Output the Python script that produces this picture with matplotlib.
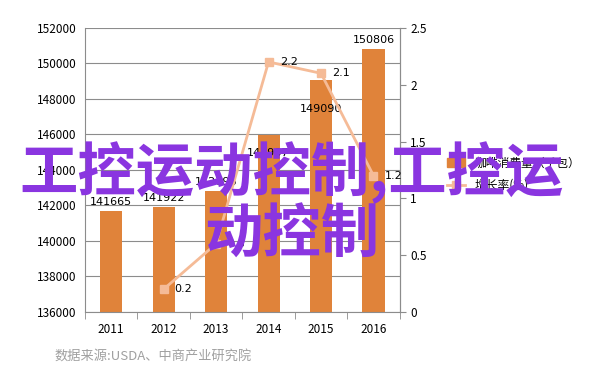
import numpy as np
import matplotlib
matplotlib.use("Agg")
from matplotlib import pyplot as plt
from matplotlib.lines import Line2D
from matplotlib.patches import Patch

plt.rcParams['font.family'] = ['Noto Sans CJK SC', 'DejaVu Sans']

years = ['2011', '2012', '2013', '2014', '2015', '2016']
consumption = [141665, 141922, 142796, 145987, 149090, 150806]
growth_years = ['2012', '2013', '2014', '2015', '2016']
growth = [0.2, 0.6, 2.2, 2.1, 1.2]

# label offsets in points (Excel pushed two labels inside the bars)
bar_label_dy = [3, 3, 3, -17, -25, 3]

bar_color = '#e0833a'
line_color = '#f5bb97'
grid_color = '#8c8c8c'

fig = plt.figure(figsize=(6.02, 3.84), dpi=100)
ax = fig.add_axes([0.141, 0.1875, 0.523, 0.740])
x = np.arange(len(years))
ax.bar(x, [v - 136000 for v in consumption], bottom=136000, width=0.42,
       color=bar_color, zorder=2)
ax.set_ylim(136000, 152000)
ax.set_xlim(-0.5, 5.5)
ax.set_yticks(range(136000, 152001, 2000))
ax.set_xticks(x)
ax.set_xticklabels(years, fontsize=8.5)
ax.tick_params(axis='y', length=0, labelsize=8.5, pad=6)
ax.tick_params(axis='x', length=0, pad=8)
ax.set_xticks(np.arange(-0.5, 6, 1), minor=True)
ax.tick_params(axis='x', which='minor', length=5, color=grid_color)
ax.yaxis.grid(True, color=grid_color, linewidth=0.8, zorder=0)
ax.spines['top'].set_visible(False)
for s in ['left', 'bottom', 'right']:
    ax.spines[s].set_color(grid_color)
for xi, v, dy in zip(x, consumption, bar_label_dy):
    ax.annotate(str(v), (xi, v), xytext=(0, dy), textcoords='offset points',
                ha='center', va='bottom', fontsize=8, family='DejaVu Sans',
                zorder=4)

ax2 = ax.twinx()
ax2.set_ylim(0, 2.5)
ax2.set_yticks([0, 0.5, 1, 1.5, 2, 2.5])
ax2.set_yticklabels(['0', '0.5', '1', '1.5', '2', '2.5'])
ax2.tick_params(axis='y', labelsize=8.5, length=4, color=grid_color)
for s in ['top', 'left', 'bottom']:
    ax2.spines[s].set_visible(False)
ax2.spines['right'].set_color(grid_color)
gx = [years.index(y) for y in growth_years]
ax2.plot(gx, growth, color=line_color, linewidth=2, marker='s', markersize=6,
         zorder=3)
for xi, v in zip(gx, growth):
    ax2.annotate(str(v), (xi, v), xytext=(8, 0), textcoords='offset points',
                 ha='left', va='center', fontsize=8, family='DejaVu Sans',
                 zorder=4)

handles = [Patch(color=bar_color), Line2D([], [], color=line_color, marker='s', linewidth=2)]
fig.legend(handles, ['咖啡消费量（千包）', '增长率(%)'], loc='upper left',
           bbox_to_anchor=(0.725, 0.62), frameon=False, fontsize=8.5,
           handlelength=1.5, labelspacing=0.8)

fig.text(0.09, 0.06, '数据来源:USDA、中商产业研究院', fontsize=9.5, color='#a0a0a0')

fig.text(0.485, 0.55, '工控运动控制,工控运', fontsize=42, fontweight='bold',
         color='#8a35e0', ha='center', va='center', zorder=10)
fig.text(0.485, 0.385, '动控制', fontsize=42, fontweight='bold',
         color='#8a35e0', ha='center', va='center', zorder=10)

fig.savefig('out.png', dpi=100)
